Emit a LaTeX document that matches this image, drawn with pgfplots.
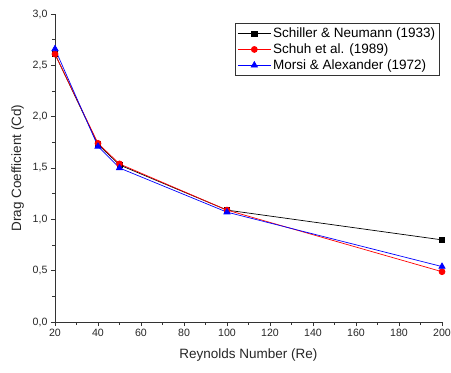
\documentclass[border=0pt]{standalone}
\usepackage{fontspec}
\setmainfont{Liberation Sans}
\usepackage{pgfplots}
\pgfplotsset{compat=1.18}
\begin{document}
\begin{tikzpicture}
\begin{axis}[
  scale only axis, width=387pt, height=308pt,
  xmin=20, xmax=200, ymin=0, ymax=3,
  axis lines*=left,
  axis line style={line width=0.9pt, black!80},
  xtick={20,40,...,200}, ytick={0,0.5,...,3},
  minor x tick num=1, minor y tick num=1,
  tick align=outside, major tick length=4pt, minor tick length=2.5pt,
  tick style={line width=0.8pt, black!80},
  /pgf/number format/assume math mode=true,
  /pgf/number format/use comma,
  /pgf/number format/fixed,
  /pgf/number format/fixed zerofill,
  yticklabel style={/pgf/number format/precision=1},
  xticklabel style={/pgf/number format/precision=0,/pgf/number format/fixed zerofill=false},
  ticklabel style={font=\fontsize{10.6}{12}\selectfont, text=black!85},
  xlabel={Reynolds Number (Re)}, ylabel={Drag Coefficient (Cd)},
  label style={font=\fontsize{13.5}{15}\selectfont, text=black!85},
  xlabel style={yshift=-5pt},
  ylabel style={yshift=2pt},
  legend style={at={(0.995,0.97)}, anchor=north east, font=\fontsize{13.5}{15}\selectfont, draw=black!80, line width=0.6pt, inner sep=2.5pt, row sep=0.5pt},
  legend cell align=left,
  legend image code/.code={\draw[mark repeat=2,mark phase=2,#1] plot coordinates {(0cm,0cm) (0.58cm,0cm) (1.16cm,0cm)};},
  clip=false,
]
\addplot[black, line width=0.7pt, mark=square*, mark size=2.6pt, mark options={solid}] coordinates {(20,2.61) (40,1.73) (50,1.53) (100,1.09) (200,0.80)};
\addlegendentry{Schiller \& Neumann (1933)}
\addplot[red, line width=0.7pt, mark=*, mark size=3pt] coordinates {(20,2.61) (40,1.74) (50,1.54) (100,1.09) (200,0.49)};
\addlegendentry{Schuh et al. (1989)}
\addplot[blue, line width=0.7pt, mark=triangle*, mark size=3.6pt] coordinates {(20,2.66) (40,1.71) (50,1.50) (100,1.07) (200,0.54)};
\addlegendentry{Morsi \& Alexander (1972)}
\end{axis}
\pgfresetboundingbox
\path ([xshift=-55pt,yshift=-50pt]current axis.south west) rectangle ([xshift=9pt,yshift=14pt]current axis.north east);
\end{tikzpicture}
\end{document}
